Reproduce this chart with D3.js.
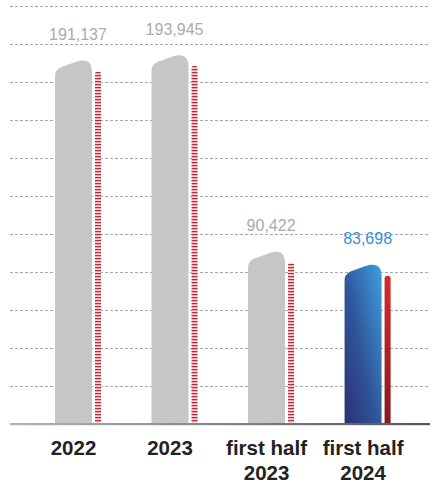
<!DOCTYPE html>
<html>
<head>
<meta charset="utf-8">
<script src="https://cdn.jsdelivr.net/npm/d3@7/dist/d3.min.js"></script>
<style>
  html, body { margin: 0; padding: 0; background: #ffffff; }
  svg { display: block; }
</style>
</head>
<body>
<svg id="chart" width="430" height="484"></svg>
<script>
// ---- data ----
const categories = ["2022", "2023", "first half 2023", "first half 2024"];
const labelLines = [["2022"], ["2023"], ["first half", "2023"], ["first half", "2024"]];
const mainValues = [191137, 193945, 90422, 83698];
const secondValues = [185400, 188400, 84700, 77900];
const valueLabels = ["191,137", "193,945", "90,422", "83,698"];
const highlighted = [false, false, false, true];
const gridTicks = [20000, 40000, 60000, 80000, 100000, 120000, 140000, 160000, 180000, 200000, 220000];

// ---- setup ----
const W = 430, H = 484;
const svg = d3.select("#chart");
const baseY = 424;
const y = d3.scaleLinear().domain([0, 220000]).range([baseY, 6]);
const x = d3.scaleBand().domain(categories).range([10, 435.6]).paddingInner(0.523).paddingOuter(0.466);
const bw = x.bandwidth();           // group width ~46
const mainW = 37, gap = 3, secW = bw - mainW - gap;

const defs = svg.append("defs");
// hatch pattern
const pat = defs.append("pattern").attr("id", "hatch").attr("patternUnits", "userSpaceOnUse")
  .attr("width", 10).attr("height", 3);
pat.append("rect").attr("x", 0).attr("y", 0).attr("width", 10).attr("height", 3).attr("fill", "#f5d6d9");
pat.append("rect").attr("x", 0).attr("y", 0).attr("width", 10).attr("height", 1).attr("fill", "#bb2a36");
pat.append("rect").attr("x", 0).attr("y", 1).attr("width", 10).attr("height", 1).attr("fill", "#e9a6ad");

// blue gradient
const bg = defs.append("linearGradient").attr("id", "blueGrad")
  .attr("x1", "0").attr("y1", "1").attr("x2", "1").attr("y2", "0");
bg.append("stop").attr("offset", "0%").attr("stop-color", "#2b2f72");
bg.append("stop").attr("offset", "45%").attr("stop-color", "#30559a");
bg.append("stop").attr("offset", "100%").attr("stop-color", "#3da0e0");

// red gradient
const rg = defs.append("linearGradient").attr("id", "redGrad")
  .attr("x1", "0").attr("y1", "0").attr("x2", "0").attr("y2", "1");
rg.append("stop").attr("offset", "0%").attr("stop-color", "#d82a2e");
rg.append("stop").attr("offset", "100%").attr("stop-color", "#861a1c");

// axis gradient
const ag = defs.append("linearGradient").attr("id", "axisGrad")
  .attr("x1", "0").attr("y1", "0").attr("x2", "1").attr("y2", "0");
ag.append("stop").attr("offset", "0%").attr("stop-color", "#b4b4b4");
ag.append("stop").attr("offset", "100%").attr("stop-color", "#555555");

// ---- gridlines ----
svg.append("g").selectAll("line").data(gridTicks).join("line")
  .attr("x1", 10).attr("x2", W)
  .attr("y1", d => Math.round(y(d)) + 0.5).attr("y2", d => Math.round(y(d)) + 0.5)
  .attr("stroke", "#a8a8a8").attr("stroke-width", 1).attr("stroke-dasharray", "3,2");

// ---- main bars (hump-shaped top) ----
function humpPath(x0, w, t, b) {
  const x1 = x0 + w;
  return `M${x0},${b} L${x0},${t + 16} ` +
    `C${x0},${t + 9} ${x0 + 4},${t + 7} ${x0 + 10},${t + 5} ` +
    `L${x0 + 21},${t + 1} ` +
    `C${x0 + 30},${t - 2} ${x1},${t - 0.5} ${x1},${t + 11} ` +
    `L${x1},${b} Z`;
}

const data = categories.map((c, i) => ({ c, i, v: mainValues[i], s: secondValues[i], lab: valueLabels[i], hi: highlighted[i] }));

svg.append("g").selectAll("path").data(data).join("path")
  .attr("d", d => humpPath(x(d.c), mainW, y(d.v), baseY))
  .attr("fill", d => d.hi ? "url(#blueGrad)" : "#c6c6c6");

// ---- second bars ----
svg.append("g").selectAll("path").data(data).join("path")
  .attr("d", d => {
    const x0 = x(d.c) + mainW + gap, t = y(d.s);
    return `M${x0},${baseY} L${x0},${t + 2} Q${x0},${t} ${x0 + 2},${t} L${x0 + secW - 2},${t} Q${x0 + secW},${t} ${x0 + secW},${t + 2} L${x0 + secW},${baseY} Z`;
  })
  .attr("fill", d => d.hi ? "url(#redGrad)" : "url(#hatch)");

// ---- axis line ----
svg.append("rect").attr("x", 10).attr("y", baseY - 1).attr("width", W - 10).attr("height", 2.2)
  .attr("fill", "url(#axisGrad)");

// ---- value labels ----
svg.append("g").selectAll("text").data(data).join("text")
  .attr("x", d => x(d.c) + bw / 2)
  .attr("y", d => y(d.v) - 21)
  .attr("text-anchor", "middle")
  .attr("font-family", "'Liberation Sans', Arial, Helvetica, sans-serif")
  .attr("font-size", 16)
  .attr("fill", d => d.hi ? "#3a8fd2" : "#ababab")
  .text(d => d.lab);

// ---- category labels ----
const cl = svg.append("g").selectAll("text").data(data).join("text")
  .attr("x", d => x(d.c) + mainW / 2)
  .attr("y", 455)
  .attr("text-anchor", "middle")
  .attr("font-family", "'Liberation Sans', Arial, Helvetica, sans-serif")
  .attr("font-weight", "bold")
  .attr("font-size", 20.5)
  .attr("fill", "#222222");
cl.selectAll("tspan").data(d => labelLines[d.i].map(t => ({ t, cx: x(d.c) + mainW / 2 }))).join("tspan")
  .attr("x", d => d.cx)
  .attr("dy", (d, j) => j === 0 ? 0 : 25)
  .text(d => d.t);
</script>
</body>
</html>
